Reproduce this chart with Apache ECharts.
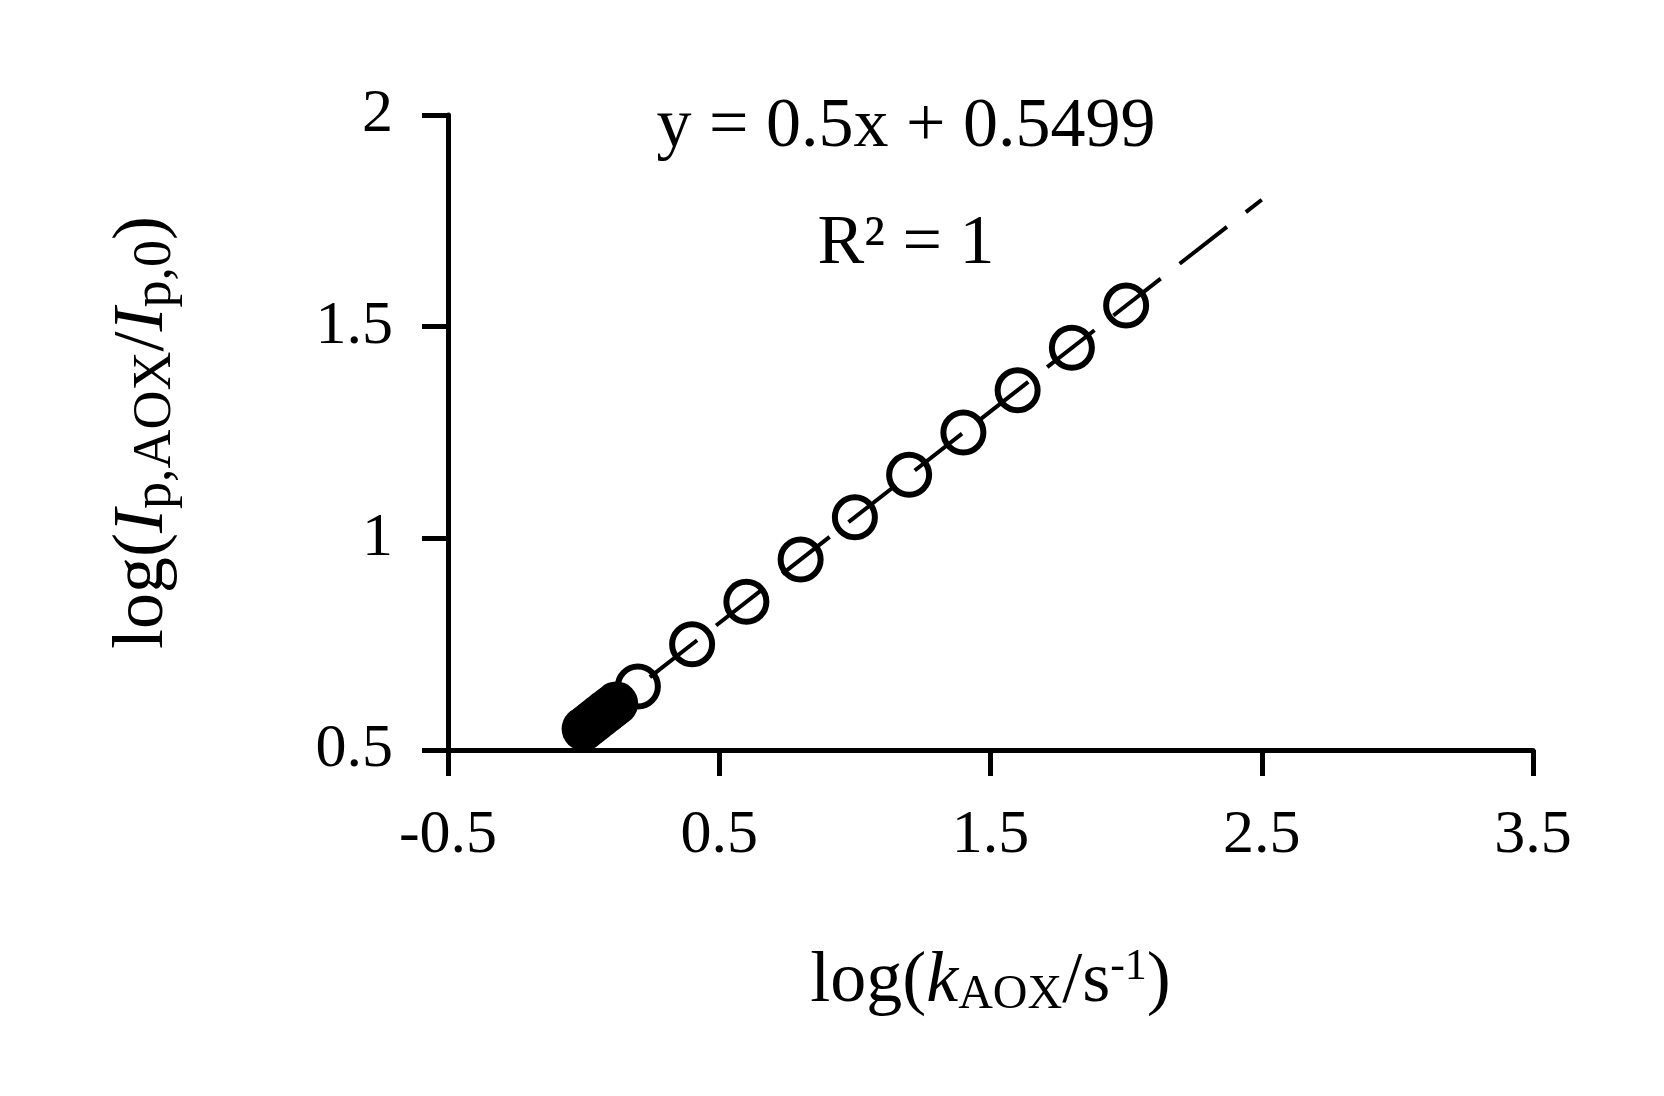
<!DOCTYPE html>
<html><head><meta charset="utf-8">
<script src="https://cdn.jsdelivr.net/npm/echarts@6/dist/echarts.min.js"></script>
<style>html,body{margin:0;padding:0;background:#fff}#c{width:1664px;height:1096px}</style>
</head><body><div id="c"></div>
<script>
const openX = [0.2, 0.4, 0.6, 0.8, 1.0, 1.2, 1.4, 1.6, 1.8, 2.0];
const openY = [0.65, 0.75, 0.85, 0.95, 1.05, 1.15, 1.25, 1.35, 1.45, 1.55];
const filledX = [0.0, 0.02, 0.04, 0.06, 0.08, 0.1, 0.12];
const filledY = [0.55, 0.56, 0.57, 0.58, 0.59, 0.60, 0.61];
const trendX = [0.0, 2.5];
const trendY = [0.5499, 1.7999];
const F = '"Liberation Serif", serif';
const chart = echarts.init(document.getElementById('c'));
chart.setOption({
  animation: false,
  backgroundColor: '#fff',
  grid: {left: 448, right: 131, top: 115, bottom: 346},
  title: [{
    text: 'y = 0.5x + 0.5499', left: 901, top: 88, textAlign: 'center',
    textStyle: {fontFamily: F, fontSize: 70, fontWeight: 'normal', color: '#000'}
  }, {
    text: 'R² = 1', left: 901, top: 205, textAlign: 'center',
    textStyle: {fontFamily: F, fontSize: 70, fontWeight: 'normal', color: '#000'}
  }],
  xAxis: {
    type: 'value', min: -0.5, max: 3.5, interval: 1,
    axisLine: {onZero: false, lineStyle: {color: '#000', width: 5}},
    axisTick: {inside: false, length: 26, lineStyle: {color: '#000', width: 5}},
    splitLine: {show: false},
    axisLabel: {margin: 55, fontFamily: F, fontSize: 62, color: '#000'},
    name: '{n|log(}{i|k}{s|AOX}{n|/s}{p|-1}{n|)}', nameLocation: 'middle', nameGap: 195,
    nameTextStyle: {rich: {
      n: {fontFamily: F, fontSize: 72, color: '#000'},
      i: {fontFamily: F, fontSize: 72, fontStyle: 'italic', color: '#000'},
      s: {fontFamily: F, fontSize: 48, color: '#000', verticalAlign: 'bottom', padding: [26, 0, 0, 0]},
      p: {fontFamily: F, fontSize: 44, color: '#000', verticalAlign: 'top', padding: [0, 0, 28, 0]}
    }}
  },
  yAxis: {
    type: 'value', min: 0.5, max: 2, interval: 0.5,
    axisLine: {onZero: false, lineStyle: {color: '#000', width: 5}},
    axisTick: {inside: false, length: 26, lineStyle: {color: '#000', width: 5}},
    splitLine: {show: false},
    axisLabel: {margin: 55, fontFamily: F, fontSize: 62, color: '#000'},
    name: '{n|log(}{i|I}{s|p,AOX}{n|/}{i|I}{s|p,0}{n|)}', nameLocation: 'middle', nameGap: 265,
    nameTextStyle: {rich: {
      n: {fontFamily: F, fontSize: 72, color: '#000'},
      i: {fontFamily: F, fontSize: 72, fontStyle: 'italic', color: '#000'},
      s: {fontFamily: F, fontSize: 54, color: '#000', verticalAlign: 'bottom', padding: [26, 0, 0, 0]}
    }}
  },
  series: [{
    type: 'line', data: trendX.map((x, i) => [x, trendY[i]]), showSymbol: false, symbol: 'none',
    lineStyle: {color: '#000', width: 4, type: [60, 24]}, z: 1
  }, {
    type: 'scatter', data: filledX.map((x, i) => [x, filledY[i]]), symbol: 'circle', symbolSize: 44,
    itemStyle: {color: '#000', opacity: 1}, z: 2
  }, {
    type: 'scatter', data: openX.map((x, i) => [x, openY[i]]), symbol: 'circle', symbolSize: 40,
    itemStyle: {color: 'rgba(255,255,255,0)', borderColor: '#000', borderWidth: 6, opacity: 1}, z: 3
  }]
});
</script></body></html>
